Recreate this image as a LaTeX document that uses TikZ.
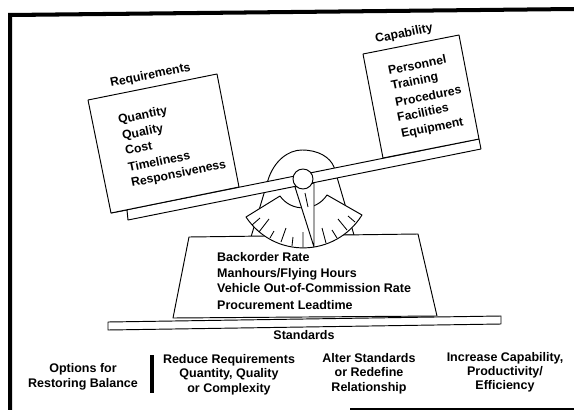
\documentclass[tikz,border=0pt]{standalone}
\usepackage{fontspec}
\setmainfont{Liberation Sans}
\tikzset{
  ln/.style={draw=black,line width=0.95pt,fill=white,line join=round},
  thin line/.style={draw=black,line width=0.85pt},
  lbl/.style={font=\fontsize{12.5}{14}\selectfont\bfseries,inner sep=0pt,text=black},
  tilted/.style={lbl,font=\fontsize{12.2}{14}\selectfont\bfseries,anchor=base west,rotate=11.5},
  flat/.style={lbl,anchor=base west},
  mid/.style={lbl,anchor=base}
}
\begin{document}
\begin{tikzpicture}[x=1pt,y=-1pt]
\useasboundingbox (0,0) rectangle (574,410);
% frame
\fill (8,13) -- (574,7) -- (574,11) -- (12,17) -- (12,410) -- (8,410) -- cycle;
\fill (350,408) rectangle (574,410);
% pedestal dome
\path[ln] (251,237) -- (268,180) .. controls (274,161) and (288,150) .. (302,150)
  .. controls (318,150) and (330,157) .. (334,167) -- (354,235) -- cycle;
% beam
\path[ln] (111,213) -- (479,139) -- (481,149) -- (128,220) -- (127,210) -- cycle;
% loads
\path[ln] (88,100) -- (217,74) -- (239,187) -- (111,213) -- cycle;
\path[ln] (363,54) -- (459,35) -- (479,139) -- (383,158) -- cycle;
% base
\path[ln] (189,237) -- (418,234) -- (437,316) -- (173,318) -- cycle;
% plate
\path[ln] (108,322) -- (501,316) -- (501,324) -- (108,330) -- cycle;
% gauge
\path[ln] (246,217) -- (280,196) .. controls (291,212) and (316,212) .. (327,195)
  -- (362,215) .. controls (335,258) and (274,259) .. (246,217) -- cycle;
\draw[thin line] (252,225) -- (260,218) (259,232) -- (269,219) (270,238) -- (274,231)
  (281,242) -- (286,228) (292,246) -- (293,237) (303,247) -- (303,232)
  (326,243) -- (322,228) (337,238) -- (332,230) (347,230) -- (338,219) (355,222) -- (348,216);
% needle
\path[ln] (295,187) -- (314,247) -- (314,183) -- cycle;
\draw[thin line] (305,193) -- (308,207);
% pivot
\path[ln] (303,179) circle (10);
% texts
\node[tilted] (req) at (111,87) {Requirements};
\node[tilted] (a1) at (119,124) {Quantity};
\node[tilted] (a2) at (123,140) {Quality};
\node[tilted] (a3) at (126,155) {Cost};
\node[tilted] (a4) at (129,172) {Timeliness};
\node[tilted] (a5) at (132,187) {Responsiveness};
\node[tilted] (cap) at (376,43) {Capability};
\node[tilted] (b1) at (389,75) {Personnel};
\node[tilted] (b2) at (392,90) {Training};
\node[tilted] (b3) at (396,107) {Procedures};
\node[tilted] (b4) at (398,122) {Facilities};
\node[tilted] (b5) at (402,138) {Equipment};
\node[flat] (c1) at (217,261) {Backorder Rate};
\node[flat] (c2) at (217,277) {Manhours/Flying Hours};
\node[flat] (c3) at (217,292) {Vehicle Out-of-Commission Rate};
\node[flat] (c4) at (217,309) {Procurement Leadtime};
\node[mid] (std) at (304,339) {Standards};
\node[mid] (o1) at (83,372) {Options for};
\node[mid] (o2) at (83,387) {Restoring Balance};
\fill (150,355) rectangle (154,393);
\node[mid] (d1) at (229,363) {Reduce Requirements};
\node[mid] (d2) at (229,377) {Quantity, Quality};
\node[mid] (d3) at (229,392) {or Complexity};
\node[mid] (e1) at (369,362) {Alter Standards};
\node[mid] (e2) at (369,376) {or Redefine};
\node[mid] (e3) at (369,391) {Relationship};
\node[mid] (f1) at (505,361) {Increase Capability,};
\node[mid] (f2) at (505,375) {Productivity/};
\node[mid] (f3) at (505,389) {Efficiency};
\end{tikzpicture}
\end{document}
